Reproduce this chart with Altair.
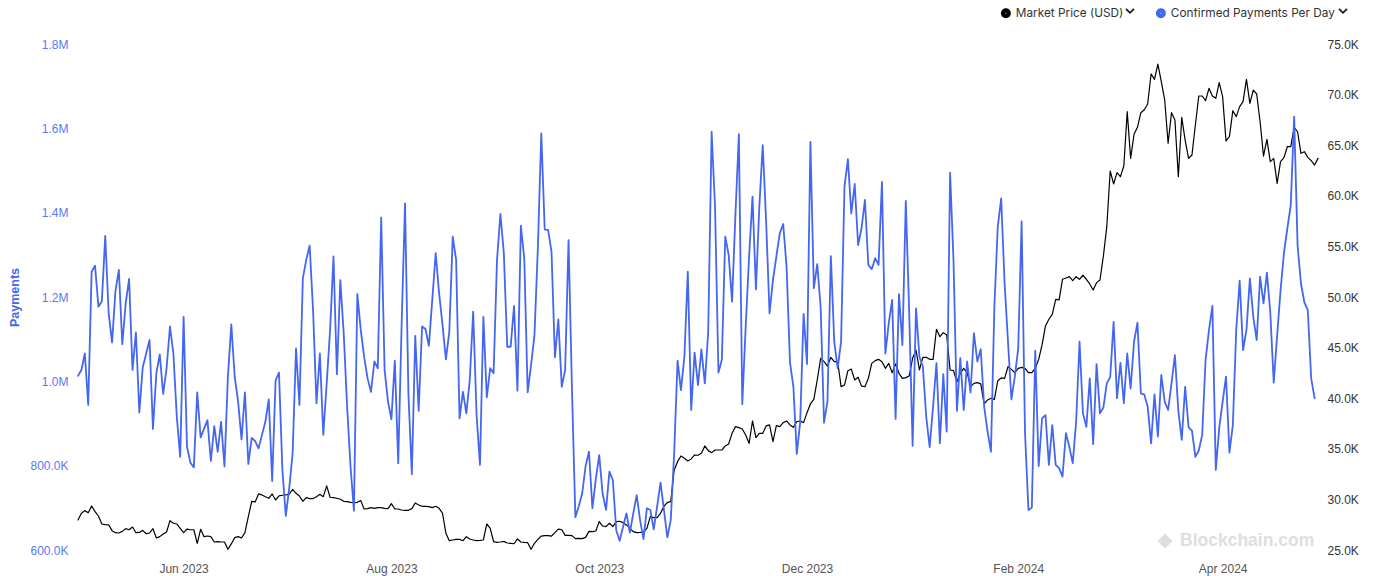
import altair as alt
import pandas as pd

START = "2023-05-01"
PRICE_NAME = "Market Price (USD)"
PAY_NAME = "Confirmed Payments Per Day"
BLUE = "#4466f0"
BLUE_LABEL = "#5a78f2"

# Market price (thousand USD), daily from 2023-05-01
price_k = [
    27.97, 28.63, 28.89, 28.69, 29.35, 28.79, 28.36, 27.57, 27.51, 27.48,
    26.91, 26.71, 26.68, 26.84, 27.11, 27.00, 27.27, 26.71, 26.74, 26.94,
    26.61, 26.68, 27.11, 26.19, 26.32, 26.58, 26.78, 27.90, 27.64, 27.57,
    27.14, 26.71, 27.07, 27.00, 27.00, 25.66, 27.04, 26.32, 26.38, 26.32,
    25.79, 25.82, 25.79, 25.79, 25.07, 25.60, 26.22, 26.32, 26.19, 26.71,
    28.30, 29.81, 29.75, 30.54, 30.44, 30.27, 30.11, 30.54, 29.94, 30.34,
    30.41, 30.44, 30.51, 31.00, 30.60, 30.34, 29.81, 30.18, 30.08, 30.08,
    30.27, 30.51, 30.27, 31.33, 30.21, 30.18, 30.11, 30.01, 29.81, 29.78,
    29.71, 29.68, 29.71, 29.88, 29.05, 29.09, 29.19, 29.12, 29.19, 29.19,
    29.12, 29.09, 29.58, 29.05, 29.05, 28.95, 28.92, 28.92, 29.09, 29.65,
    29.45, 29.32, 29.32, 29.29, 29.19, 29.32, 29.12, 28.63, 26.65, 25.92,
    25.99, 26.05, 26.05, 25.92, 26.32, 26.09, 25.99, 25.92, 25.95, 25.99,
    27.57, 27.14, 25.82, 25.75, 25.79, 25.85, 25.69, 25.66, 25.62, 26.09,
    25.79, 25.75, 25.72, 25.07, 25.66, 26.05, 26.38, 26.42, 26.42, 26.38,
    26.71, 27.07, 27.00, 26.45, 26.45, 26.42, 26.12, 26.15, 26.12, 26.25,
    26.84, 26.81, 26.88, 27.80, 27.37, 27.31, 27.64, 27.31, 27.80, 27.84,
    27.70, 27.48, 27.14, 26.81, 26.71, 26.74, 26.78, 27.14, 28.30, 28.20,
    28.20, 28.63, 29.32, 29.68, 29.81, 32.91, 33.73, 34.29, 34.06, 33.80,
    34.00, 34.39, 34.36, 34.56, 35.28, 34.82, 34.62, 34.88, 34.88, 34.88,
    35.28, 35.48, 36.53, 37.19, 37.09, 36.96, 36.37, 35.54, 37.75, 36.10,
    36.53, 36.53, 37.26, 37.36, 35.71, 37.29, 37.19, 37.59, 37.75, 37.36,
    37.12, 37.69, 37.75, 37.59, 38.57, 39.43, 39.89, 41.80, 43.94, 43.61,
    43.18, 44.04, 43.61, 43.61, 41.14, 41.30, 42.72, 42.88, 41.80, 42.07,
    41.20, 41.14, 41.96, 43.44, 43.71, 43.84, 43.61, 42.95, 43.44, 42.52,
    43.38, 42.46, 41.96, 42.03, 42.20, 43.94, 44.76, 42.79, 44.04, 44.04,
    43.84, 43.84, 46.81, 46.08, 46.48, 46.25, 42.79, 42.72, 41.63, 42.46,
    42.95, 42.52, 41.14, 41.47, 41.54, 41.41, 39.43, 39.83, 39.99, 39.89,
    41.73, 42.00, 41.96, 43.11, 42.85, 42.52, 42.95, 43.05, 42.95, 42.52,
    42.52, 42.95, 43.84, 45.26, 47.14, 47.80, 48.29, 49.77, 49.71, 51.75,
    51.88, 52.01, 51.62, 52.01, 51.75, 52.15, 51.75, 51.29, 50.69, 51.42,
    51.68, 54.05, 56.95, 62.45, 61.17, 62.29, 61.89, 62.95, 68.31, 63.70,
    66.08, 66.77, 68.21, 68.50, 69.07, 72.04, 71.51, 73.02, 71.28, 69.47,
    65.19, 68.21, 67.49, 61.89, 67.75, 65.51, 63.70, 64.03, 67.00, 69.86,
    69.86, 69.40, 70.62, 69.86, 69.63, 71.18, 69.80, 65.42, 65.84, 68.41,
    67.82, 68.81, 69.30, 71.51, 69.14, 70.45, 70.06, 67.32, 63.93, 65.58,
    63.37, 63.70, 61.23, 63.37, 63.77, 64.85, 64.85, 66.77, 66.33, 64.20,
    64.36, 63.80, 63.47, 63.04, 63.70,
]

# Confirmed payments per day (thousands), daily from 2023-05-01 (None = not read)
payments_k = [
    1013, 1027, 1066, 944, 1260, 1274, 1177, 1190, 1345, 1161,
    1092, 1215, 1264, 1088, 1185, 1243, 1027, 1116, 926, 1033,
    None, 1098, 887, 1019, 1064, 970, 1031, 1130, 1066, 916,
    821, 1153, 845, 807, 796, 974, 867, None, 908, 811,
    894, 833, 904, 798, 1011, 1135, 1011, 952, 862, 974,
    804, 866, 858, 841, 873, 904, 957, 764, 1002, 1021,
    790, 681, 746, 829, 1078, 944, 1244, 1288, 1322, 1169,
    948, 1066, 873, 995, 1122, 1296, 1017, 1240, 1114, 940,
    798, 693, 1207, 1122, 1058, 1007, 975, 1047, 1031, 1388,
    1027, 952, 910, 1049, 806, 1134, 1422, 968, 780, 1108,
    930, 1130, 1124, 1084, None, 1304, 1209, 1134, 1052, 1118,
    1343, 1288, 912, 975, 924, 1003, 1165, 920, 802, 1153,
    962, 1031, 1019, 1288, 1397, 1304, 1082, 1082, 1179, 978,
    1369, 1292, 974, 1039, 1110, 1319, 1588, 1360, 1359, 1307,
    1057, 1147, 987, 1027, 1335, 983, 678, 704, 734, 799,
    833, 699, 768, 825, 734, 695, 786, 766, 647, 622,
    655, 687, 641, 687, 730, 671, 626, 699, 695, 649,
    703, 760, 695, 630, 671, 829, 1049, 979, 1058, 1260,
    932, 1068, 991, 1076, 995, 1118, 1592, 1414, 1021, 1051,
    1343, 1300, 1189, 1398, 1586, 946, 1130, 1296, 1438, 1218,
    1414, 1560, 1379, 1161, 1240, 1296, 1351, 1373, 1272, 1045,
    987, 828, 904, 1160, 1041, 1568, 1221, 1278, 1177, 902,
    952, 1297, 1094, 1031, 1094, 1462, 1527, 1398, 1468, 1323,
    1363, 1430, 1276, 1266, 1292, 1276, 1473, 1066, 1138, 1193,
    911, 1207, 1086, 1428, 1161, 847, 1173, 1058, 1035, 916,
    844, 940, 1043, 853, 1017, 881, 1495, 1288, 930, 1055,
    932, 1047, 973, 1114, 1047, 1076, 940, 881, 833, 1177,
    1367, 1434, 1232, 1094, 957, 1011, 1078, 1379, 877, 695,
    701, 1073, 799, 912, 920, 802, 896, 802, 794, 774,
    877, 845, 806, 904, 1094, 924, 892, 1007, 851, 1041,
    924, 938, 995, 1010, 1141, 960, 1044, 948, 1066, 983,
    1094, 1139, 971, 969, 940, 853, 969, 869, 1015, 952,
    932, 995, 1062, 930, 861, 987, 891, 883, 821, 836,
    873, 1051, 1122, 1179, 790, 889, 952, 1011, 831, 896,
    1122, 1239, 1074, 1122, 1244, 1153, 1098, 1248, 1185, 1258,
    1163, 997, 1108, 1215, 1304, 1363, 1418, 1628, 1323, 1232,
    1187, 1169, 1007, 960,
]

x_tick_dates = [(2023, 6), (2023, 8), (2023, 10), (2023, 12), (2024, 2), (2024, 4)]
left_ticks = [600000, 800000, 1000000, 1200000, 1400000, 1600000, 1800000]
right_ticks = [25000, 30000, 35000, 40000, 45000, 50000, 55000, 60000, 65000, 70000, 75000]

price_df = pd.DataFrame({
    "date": pd.date_range(START, periods=len(price_k), freq="D").strftime("%Y-%m-%d"),
    "value": [v * 1000 for v in price_k],
    "series": PRICE_NAME,
})
pay_df = pd.DataFrame({
    "date": pd.date_range(START, periods=len(payments_k), freq="D").strftime("%Y-%m-%d"),
    "value": [None if v is None else v * 1000 for v in payments_k],
    "series": PAY_NAME,
}).dropna()

AXIS_FONT = "Liberation Sans"

x_enc = alt.X(
    "date:T",
    title=None,
    scale=alt.Scale(nice=False),
    axis=alt.Axis(
        values=[alt.DateTime(year=y, month=m, date=1) for y, m in x_tick_dates],
        format="%b %Y",
        labelFont=AXIS_FONT,
        labelFontSize=12,
        labelColor="#555555",
        labelPadding=13,
        labelFlush=False,
        domain=False,
        ticks=False,
        grid=False,
    ),
)

color_enc = alt.Color(
    "series:N",
    scale=alt.Scale(domain=[PRICE_NAME, PAY_NAME], range=["#000000", BLUE]),
    legend=alt.Legend(
        title=None,
        orient="none",
        legendX=922,
        legendY=-37,
        direction="horizontal",
        symbolType="circle",
        symbolSize=20,
        symbolStrokeWidth=5.5,
        symbolOpacity=1,
        labelFont="Inter",
        labelFontSize=11.8,
        labelColor="#333333",
        labelLimit=400,
        labelOffset=4,
        columnPadding=23,
        padding=0,
    ),
)

price_line = alt.Chart(price_df).mark_line(
    strokeWidth=1.2, strokeJoin="round", strokeCap="round"
).encode(
    x=x_enc,
    y=alt.Y(
        "value:Q",
        scale=alt.Scale(domain=[25000, 75000], nice=False, zero=False),
        axis=alt.Axis(
            orient="right",
            values=right_ticks,
            labelExpr="format(datum.value / 1000, '.1f') + 'K'",
            labelFont=AXIS_FONT,
            labelFontSize=12,
            labelColor="#333333",
            labelPadding=9,
            domain=False,
            ticks=False,
            grid=False,
            title="USD",
            titleFont=AXIS_FONT,
            titleFontSize=12,
            titleFontWeight="bold",
            titleColor="#000000",
            titleX=53,
            titleY=245,
            titleAngle=90,
            titleAlign="center",
            titleBaseline="middle",
        ),
    ),
    color=color_enc,
)

pay_line = alt.Chart(pay_df).mark_line(
    strokeWidth=1.8, strokeJoin="round", strokeCap="round"
).encode(
    x=x_enc,
    y=alt.Y(
        "value:Q",
        scale=alt.Scale(domain=[600000, 1800000], nice=False, zero=False),
        axis=alt.Axis(
            orient="left",
            values=left_ticks,
            labelExpr="datum.value >= 1000000 ? format(datum.value / 1000000, '.1f') + 'M' : format(datum.value / 1000, '.1f') + 'K'",
            labelFont=AXIS_FONT,
            labelFontSize=12,
            labelColor=BLUE_LABEL,
            labelPadding=10,
            domain=False,
            ticks=False,
            grid=False,
            title="Payments",
            titleFont=AXIS_FONT,
            titleFontSize=12.5,
            titleFontWeight="bold",
            titleColor=BLUE,
            titleX=-64,
            titleY=253,
            titleAngle=270,
            titleAlign="center",
            titleBaseline="middle",
        ),
    ),
    color=color_enc,
)

# legend drop-down chevrons (decoration next to each legend label)
deco_df = pd.DataFrame({"t": ["Blockchain.com"]})
CHEVRON = "M-1,-0.55L0,0.45L1,-0.55"
chev1 = alt.Chart(deco_df).mark_point(
    shape=CHEVRON, filled=False, size=64, strokeWidth=1.8, color="#1a1a1a", opacity=1,
).encode(x=alt.value(1052), y=alt.value(-33))
chev2 = alt.Chart(deco_df).mark_point(
    shape=CHEVRON, filled=False, size=64, strokeWidth=1.8, color="#1a1a1a", opacity=1,
).encode(x=alt.value(1265), y=alt.value(-33))

wm_text = alt.Chart(deco_df).mark_text(
    font=AXIS_FONT, fontSize=17.5, fontWeight="bold", color="#dedede",
    align="left", baseline="middle",
).encode(x=alt.value(1102), y=alt.value(497), text="t:N")
wm_icon = alt.Chart(deco_df).mark_point(
    shape="diamond", filled=True, size=230, color="#dedede", opacity=1
).encode(x=alt.value(1087), y=alt.value(497))

chart = alt.layer(wm_icon, wm_text, chev1, chev2, price_line, pay_line).resolve_scale(
    y="independent"
).properties(
    width=1240,
    height=506,
    autosize=alt.AutoSizeParams(type="none"),
    padding={"left": 70, "top": 36, "right": 49, "bottom": 26},
    background="#ffffff",
).configure_view(strokeWidth=0)

chart.save("out.html", embed_options={"renderer": "svg", "actions": False})
